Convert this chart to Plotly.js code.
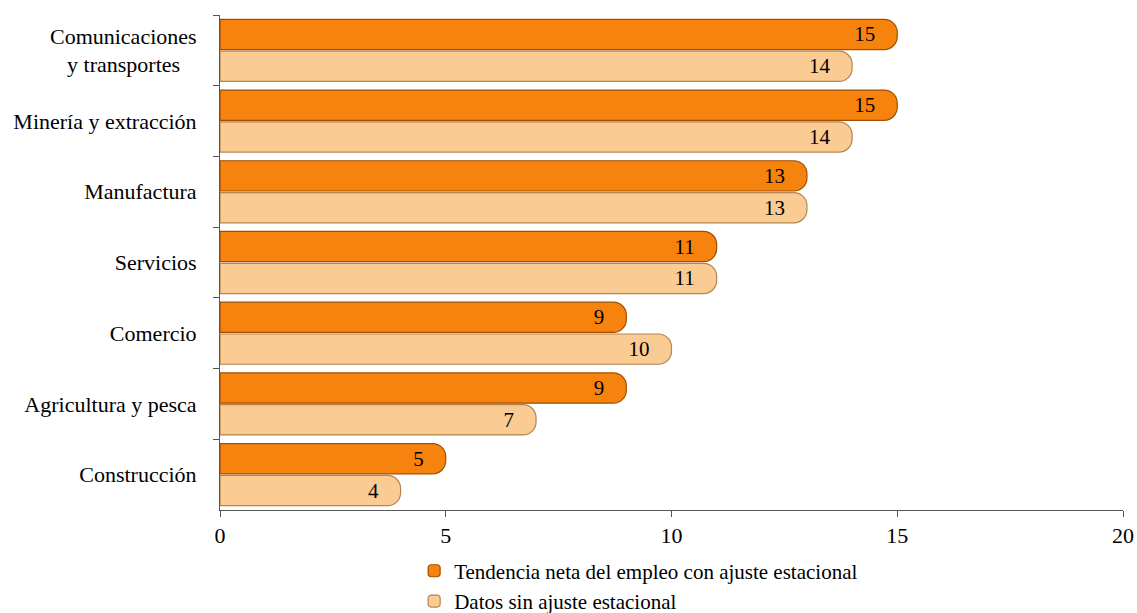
<!DOCTYPE html>
<html>
<head>
<meta charset="utf-8">
<script src="https://cdn.plot.ly/plotly-3.0.1.min.js"></script>
<style>html,body{margin:0;padding:0;background:#fff;}#chart{width:1137px;height:613px;}</style>
</head>
<body>
<div id="chart"></div>
<script>
const categories = ["Comunicaciones<br>y transportes\u00a0\u00a0\u00a0", "Minería y extracción", "Manufactura", "Servicios", "Comercio", "Agricultura y pesca", "Construcción"];
const tendencia = [15, 15, 13, 11, 9, 9, 5];
const datos = [14, 14, 13, 11, 10, 7, 4];
const seriesNames = ["Tendencia neta del empleo con ajuste estacional", "Datos sin ajuste estacional"];
const xTicks = [0, 5, 10, 15, 20];

const FAM = "Liberation Serif, Times New Roman, serif";
const font = {family: FAM, size: 22, color: "#000"};

const traces = [
  {type: "bar", orientation: "h", y: categories, x: tendencia, name: seriesNames[0],
   texttemplate: "%{x}\u00a0\u00a0", textposition: "inside", insidetextanchor: "end",
   textfont: {family: FAM, size: 21, color: "#000"},
   marker: {color: "#F7830F", line: {color: "#A14E00", width: 1.2}, cornerradius: 13}},
  {type: "bar", orientation: "h", y: categories, x: datos, name: seriesNames[1],
   texttemplate: "%{x}\u00a0\u00a0", textposition: "inside", insidetextanchor: "end",
   textfont: {family: FAM, size: 21, color: "#000"},
   marker: {color: "#FACB92", line: {color: "#B48550", width: 1.2}, cornerradius: 13}}
];

const layout = {
  width: 1137, height: 613,
  margin: {l: 220, r: 14, t: 15, b: 103, autoexpand: false},
  paper_bgcolor: "#fff", plot_bgcolor: "#fff",
  font: font,
  barmode: "group", bargap: 0.1, bargroupgap: 0.05,
  showlegend: true,
  legend: {orientation: "v", x: 0.215, xanchor: "left", y: -0.082, yanchor: "top",
           font: {family: FAM, size: 21, color: "#000"}, itemwidth: 30, tracegroupgap: 0},
  xaxis: {range: [0, 20], tickvals: xTicks, ticktext: xTicks.map(String), showgrid: false, zeroline: false,
          showline: true, linecolor: "#555", linewidth: 1, ticks: "outside", ticklen: 6, tickcolor: "#555",
          tickfont: font, ticklabelstandoff: 0},
  yaxis: {type: "category", autorange: "reversed", showgrid: false, zeroline: false,
          showline: true, linecolor: "#555", linewidth: 1, ticks: "outside", ticklen: 6, tickcolor: "#555",
          tickson: "boundaries", tickfont: font, ticklabelstandoff: 18}
};

Plotly.newPlot("chart", traces, layout, {displayModeBar: false, staticPlot: true});
</script>
</body>
</html>
